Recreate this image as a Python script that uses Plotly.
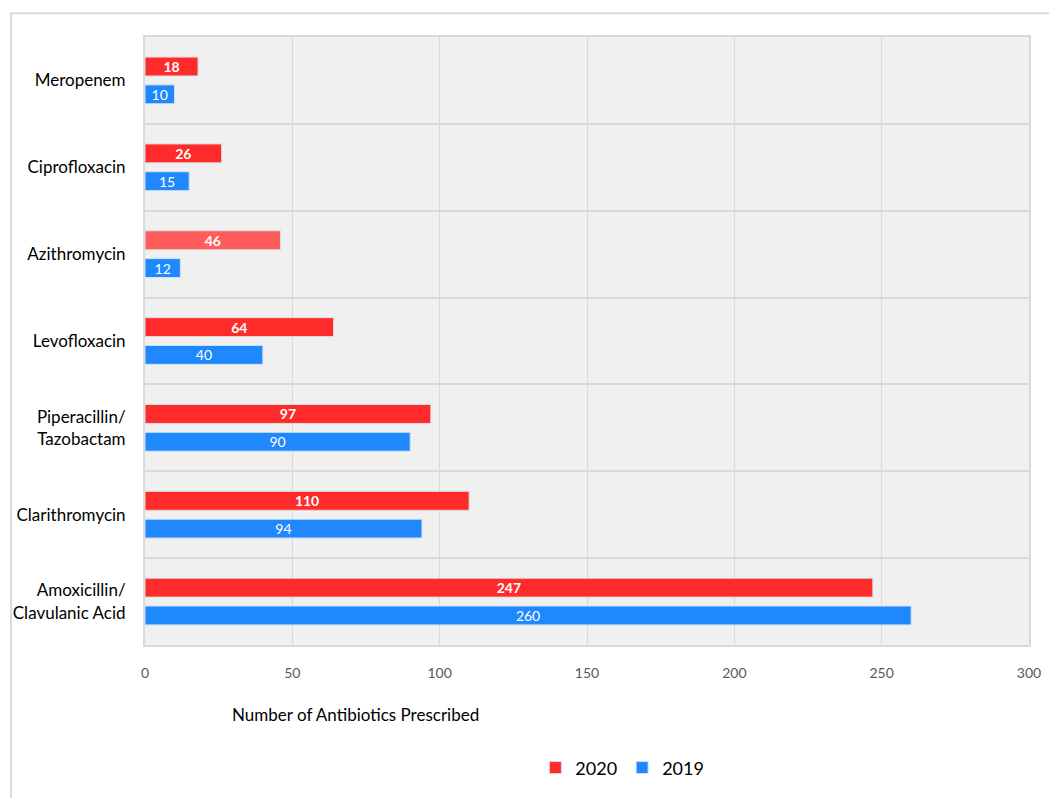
import plotly.graph_objects as go

categories = ["Meropenem", "Ciprofloxacin", "Azithromycin", "Levofloxacin",
              "Piperacillin/<br>Tazobactam", "Clarithromycin",
              "Amoxicillin/<br>Clavulanic Acid"]
values_2020 = [18, 26, 46, 64, 97, 110, 247]
values_2019 = [10, 15, 12, 40, 90, 94, 260]
colors_2020 = ["#ff2a2a", "#ff2a2a", "#ff5c5c", "#ff2a2a", "#ff2a2a", "#ff2a2a", "#ff2a2a"]
color_2019 = "#1f88fd"
x_ticks = [0, 50, 100, 150, 200, 250, 300]

FONT = "Lato, sans-serif"

fig = go.Figure()
fig.add_trace(go.Bar(
    y=categories, x=values_2020, name="2020", orientation="h",
    marker=dict(color=colors_2020, line=dict(color="#dcdcdc", width=1)),
    text=[f"<b>{v}</b>" for v in values_2020], textposition="inside",
    insidetextanchor="middle", textangle=0, constraintext="none",
    textfont=dict(color="white", size=14, family=FONT),
))
fig.add_trace(go.Bar(
    y=categories, x=values_2019, name="2019", orientation="h",
    marker=dict(color=color_2019, line=dict(color="#cfe3fb", width=1)),
    text=[str(v) for v in values_2019], textposition="inside",
    insidetextanchor="middle", textangle=0, constraintext="none",
    textfont=dict(color="white", size=14, family=FONT),
))

fig.update_layout(
    width=1049, height=798,
    margin=dict(l=145, r=20, t=37, b=151),
    paper_bgcolor="white", plot_bgcolor="#f0f0f0",
    barmode="group", bargap=0.36, bargroupgap=0.32,
    font=dict(family=FONT, color="#000000"),
    showlegend=True,
    legend=dict(orientation="h", x=0.54, xanchor="center", y=-0.202, yanchor="middle",
                font=dict(size=18, color="#000000"), itemwidth=30,
                traceorder="normal"),
    xaxis=dict(range=[0, 300], tickvals=x_ticks, showgrid=True, gridcolor="#d9d9d9",
               gridwidth=1, zeroline=False, showline=True, linecolor="#d9d9d9",
               linewidth=2, mirror=True, ticks="", ticklen=0, ticklabelstandoff=14,
               tickfont=dict(size=14, color="#595959"), automargin=False),
    yaxis=dict(autorange="reversed", tickson="boundaries", showgrid=True,
               gridcolor="#d9d9d9", gridwidth=2, showline=True, linecolor="#d9d9d9",
               linewidth=2, mirror=True, ticks="", ticklen=0, ticklabelstandoff=14,
               tickfont=dict(size=17, color="#000000"), automargin=False),
    annotations=[dict(text="Number of Antibiotics Prescribed", xref="paper", yref="paper",
                      x=0.238, y=-0.115, xanchor="center", yanchor="middle",
                      showarrow=False, font=dict(size=17, color="#000000"))],
    shapes=[dict(type="rect", xref="paper", yref="paper",
                 x0=-0.1515, x1=1.05, y0=-0.4, y1=1.039,
                 line=dict(color="#d9d9d9", width=2), fillcolor="rgba(0,0,0,0)",
                 layer="below")],
)

fig.write_html("out.html")
